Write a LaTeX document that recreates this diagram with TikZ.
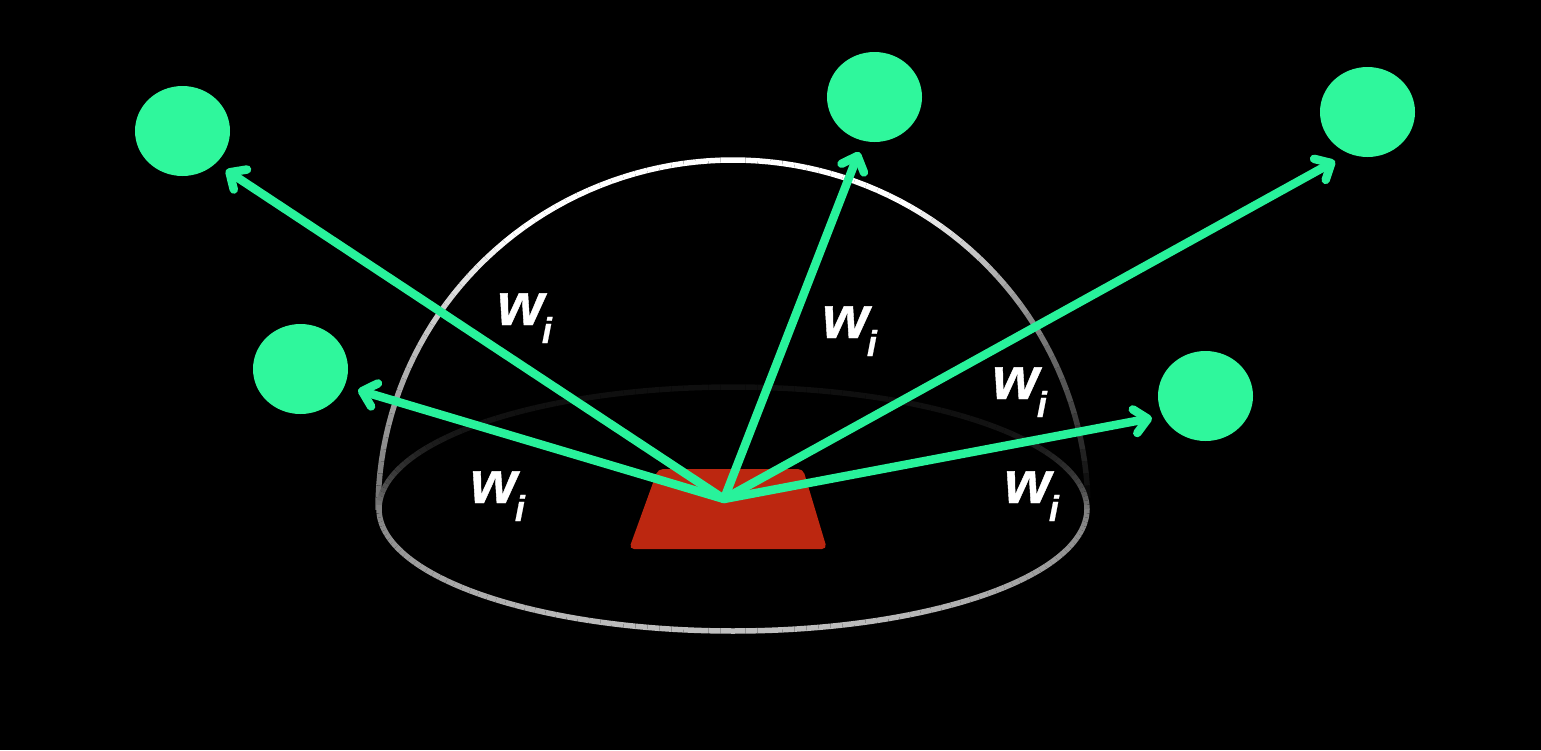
\documentclass[tikz,border=0pt]{standalone}
\usepackage{fontspec}
\setmainfont[BoldItalicFeatures={FakeBold=0.7}]{Liberation Sans}
\usetikzlibrary{positioning, arrows.meta, shapes.geometric}
\definecolor{lightgreen}{HTML}{2FF79C}
\definecolor{raygreen}{HTML}{28F29B}
\definecolor{patchred}{HTML}{BC2710}
\newcommand{\wilabel}{\bfseries\itshape{\fontsize{60}{60}\selectfont w}\kern-2pt\raisebox{-18pt}{\fontsize{36}{36}\selectfont i}}
\tikzset{
    light/.style={ellipse, fill=lightgreen, minimum width=95pt, minimum height=90pt, inner sep=0pt},
    ray/.style={draw=raygreen, line width=8.5pt, line cap=round, -{Straight Barb[length=13pt, width=24pt, round]}},
    wlabel/.style={text=white, anchor=base west, inner sep=0pt}
}

\begin{document}
\begin{tikzpicture}[x=1pt, y=-1pt]
                \useasboundingbox (0,0) rectangle (1541,750);
                \fill[black] (0,0) rectangle (1541,750);

                \foreach \t in {0,2,...,178}{
                    \pgfmathsetmacro{\level}{100*min(1,min(\t/60,0.42+(180-\t)/90))}
                    \draw[white!\level!black, line width=5.5pt] ({733+355*cos(\t)},{510-350*sin(\t)}) -- ({733+355*cos(\t+2)},{510-350*sin(\t+2)});
                }
                \foreach \t in {0,2,...,358}{
                    \pgfmathsetmacro{\level}{100*(sin(\t)>=0 ? 0.5+0.25*sin(\t) : 0.06+0.44*(1+sin(\t))^3)}
                    \draw[white!\level!black, line width=5.5pt] ({733+354*cos(\t)},{509+122*sin(\t)}) -- ({733+354*cos(\t+2)},{509+122*sin(\t+2)});
                }

                \fill[patchred, rounded corners=5pt] (658,469) -- (803,469) -- (827,549) -- (629,549) -- cycle;

                \node[light] (Light Far Left) at (182.5,131) {};
                \node[light] (Light Top) at (874.5,97) {};
                \node[light] (Light Far Right) at (1367.5,112) {};
                \node[light] (Light Left) at (300.5,369) {};
                \node[light] (Light Right) at (1205.5,396) {};

                \coordinate (Hit) at (724,499);
                \coordinate (Tip Far Left) at (226,170);
                \coordinate (Tip Top) at (859,152);
                \coordinate (Tip Far Right) at (1335,161);
                \coordinate (Tip Left) at (358,390);
                \coordinate (Tip Right) at (1152,418);

                \draw[ray] (Hit) -- (Tip Far Left);
                \draw[ray] (Hit) -- (Tip Top);
                \draw[ray] (Hit) -- (Tip Far Right);
                \draw[ray] (Hit) -- (Tip Left);
                \draw[ray] (Hit) -- (Tip Right);

                \node[wlabel] (Label Far Left) at (497,325) {\wilabel};
                \node[wlabel] (Label Top) at (822,338) {\wilabel};
                \node[wlabel] (Label Far Right) at (992,399) {\wilabel};
                \node[wlabel] (Label Left) at (470,503) {\wilabel};
                \node[wlabel] (Label Right) at (1004,503) {\wilabel};
            \end{tikzpicture}
\end{document}
